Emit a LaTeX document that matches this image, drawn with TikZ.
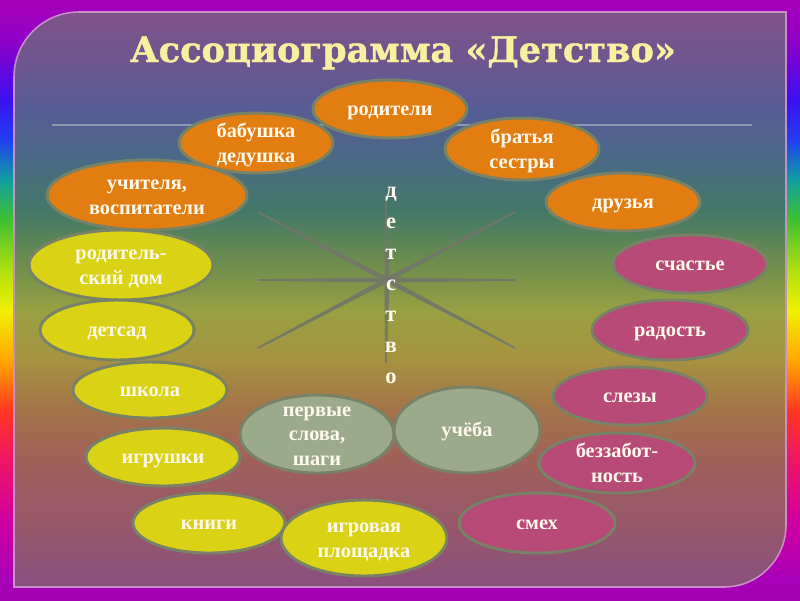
\documentclass[tikz,border=0pt]{standalone}
\usepackage{fontspec}
\setmainfont{Liberation Serif}
\newfontfamily\titlefont[FakeBold=1.2]{DejaVu Serif}
\usetikzlibrary{shapes.geometric,calc}

\definecolor{rbA}{HTML}{A000B0}
\definecolor{rbB}{HTML}{A800B8}
\definecolor{rbC}{HTML}{D000A0}
\definecolor{rbD}{HTML}{F01860}
\definecolor{rbE}{HTML}{FF3820}
\definecolor{rbF}{HTML}{FFA800}
\definecolor{rbG}{HTML}{F0F000}
\definecolor{rbH}{HTML}{B0E010}
\definecolor{rbI}{HTML}{40C030}
\definecolor{rbJ}{HTML}{10A0A0}
\definecolor{rbK}{HTML}{2040F0}
\definecolor{rbL}{HTML}{3C10F0}
\definecolor{rbM}{HTML}{9000C8}

\definecolor{pA}{HTML}{8A5080}
\definecolor{pB}{HTML}{985868}
\definecolor{pC}{HTML}{A0605A}
\definecolor{pD}{HTML}{A47448}
\definecolor{pE}{HTML}{A69440}
\definecolor{pF}{HTML}{98A042}
\definecolor{pG}{HTML}{6A8C4E}
\definecolor{pH}{HTML}{437868}
\definecolor{pI}{HTML}{4A6A84}
\definecolor{pJ}{HTML}{565C96}
\definecolor{pK}{HTML}{6E568E}
\definecolor{pL}{HTML}{80528A}

\definecolor{orng}{HTML}{E27D12}
\definecolor{yel}{HTML}{DAD214}
\definecolor{pnk}{HTML}{B84A78}
\definecolor{sage}{HTML}{9CAA8C}
\definecolor{ellborder}{HTML}{788266}
\definecolor{labeltext}{HTML}{FFF9EC}
\definecolor{titlecol}{HTML}{F8F0A0}
\definecolor{panelborder}{HTML}{C890C8}
\definecolor{hlinecol}{HTML}{8A9AB0}
\definecolor{raycol}{HTML}{72766A}

\pgfdeclareverticalshading{rainbowbg}{100bp}{%
color(0bp)=(rbA); color(25bp)=(rbA); color(26.67bp)=(rbB); color(31.67bp)=(rbC);
color(37.08bp)=(rbD); color(40.83bp)=(rbE); color(45bp)=(rbF); color(49.17bp)=(rbG);
color(52.5bp)=(rbH); color(56.67bp)=(rbI); color(60bp)=(rbJ); color(63.33bp)=(rbK);
color(66.67bp)=(rbL); color(71.67bp)=(rbM); color(75bp)=(rbB); color(100bp)=(rbB)}

\pgfdeclareverticalshading{panelbg}{100bp}{%
color(0bp)=(pA); color(25bp)=(pA); color(31bp)=(pB); color(36bp)=(pC);
color(40.5bp)=(pD); color(45bp)=(pE); color(49bp)=(pF); color(53.5bp)=(pG);
color(57.75bp)=(pH); color(62bp)=(pI); color(66.5bp)=(pJ); color(70.85bp)=(pK);
color(75bp)=(pL); color(100bp)=(pL)}

\newcommand\lbl[1]{\raisebox{-1.3pt}[\height][\depth]{\begin{tabular}{@{}c@{}}#1\end{tabular}}}

\begin{document}
\begin{tikzpicture}[x=0.025cm,y=-0.025cm,
  ell/.style={ellipse, draw=ellborder, line width=2.1pt, inner sep=-15pt,
    text=labeltext, font=\bfseries\fontsize{14.5}{17.5}\selectfont},
  sz/.style 2 args={minimum width=#1*0.025cm, minimum height=#2*0.025cm},
  og/.style={ell, fill=orng},
  yl/.style={ell, fill=yel},
  pk/.style={ell, fill=pnk},
  sg/.style={ell, fill=sage},
  titlestyle/.style={text=titlecol, font=\titlefont\bfseries\fontsize{25}{30}\selectfont},
  hline/.style={draw=hlinecol, line width=1.3pt},
  ray/.style={fill=raycol, fill opacity=0.9},
  letter/.style={anchor=base, text=labeltext, inner sep=0pt, font=\bfseries\fontsize{16}{18}\selectfont}]

\useasboundingbox (0,0) rectangle (800,600);
\shade[shading=rainbowbg] (0,0) rectangle (800,600);
\shadedraw[shading=panelbg, draw=panelborder, line width=1.1pt]
  (14,587) -- (14,77) .. controls (14,41.1) and (43.1,12) .. (79,12)
  -- (786,12) -- (786,525) .. controls (786,559.2) and (758.2,587) .. (724,587) -- cycle;

% title
\node[titlestyle, anchor=base] (title) at (403,62) {Ассоциограмма «Детство»};

% horizontal rule
\coordinate (hl1) at (52,125);
\coordinate (hl2) at (752,125);
\draw[hline] (hl1) -- (hl2);

% star
\coordinate (sc) at (387,280);
\coordinate (s1) at (258,212);
\coordinate (s2) at (515,212);
\coordinate (s3) at (258,280);
\coordinate (s4) at (515,280);
\coordinate (s5) at (258,348);
\coordinate (s6) at (515,348);
\coordinate (s7) at (386,200);
\coordinate (s8) at (386,363);
\foreach \e in {s1,s2,s3,s4,s5,s6,s7,s8}
  \fill[ray] ($(sc)!1.8pt!90:(\e)$) -- ($(\e)!0.6pt!-90:(sc)$)
    -- ($(\e)!0.6pt!90:(sc)$) -- ($(sc)!1.8pt!-90:(\e)$) -- cycle;

% vertical word
\foreach \l [count=\i from 0] in {д,е,т,с,т,в,о}
  \node[letter] (d\i) at ({391},{197+31*\i}) {\l};

% ellipses
\node[og, sz={154}{58}] (rod) at (390,109) {\lbl{родители}};
\node[og, sz={154}{60}] (bab) at (256,143) {\lbl{бабушка\\дедушка}};
\node[og, sz={154}{62}] (bra) at (522,149) {\lbl{братья\\сестры}};
\node[og, sz={200}{70}] (uch) at (147,195) {\lbl{учителя,\\воспитатели}};
\node[og, sz={154}{58}] (dru) at (623,202) {\lbl{друзья}};
\node[yl, sz={184}{70}] (dom) at (121,265) {\lbl{родитель-\\ский дом}};
\node[pk, sz={154}{58}] (sch) at (690,264) {\lbl{счастье}};
\node[yl, sz={154}{60}] (det) at (117,330) {\lbl{детсад}};
\node[pk, sz={156}{60}] (rad) at (670,330) {\lbl{радость}};
\node[yl, sz={154}{56}] (shk) at (150,390) {\lbl{школа}};
\node[pk, sz={154}{58}] (sle) at (630,396) {\lbl{слезы}};
\node[sg, sz={154}{78}] (per) at (317,434) {\lbl{первые\\слова,\\шаги}};
\node[sg, sz={146}{86}] (ucheba) at (467,430) {\lbl{учёба}};
\node[yl, sz={154}{58}] (igr) at (163,457) {\lbl{игрушки}};
\node[pk, sz={156}{60}] (bez) at (617,463) {\lbl{беззабот-\\ность}};
\node[yl, sz={152}{60}] (kni) at (209,523) {\lbl{книги}};
\node[pk, sz={156}{60}] (sme) at (537,523) {\lbl{смех}};
\node[yl, sz={166}{76}] (plo) at (364,538) {\lbl{игровая\\площадка}};
\end{tikzpicture}
\end{document}
